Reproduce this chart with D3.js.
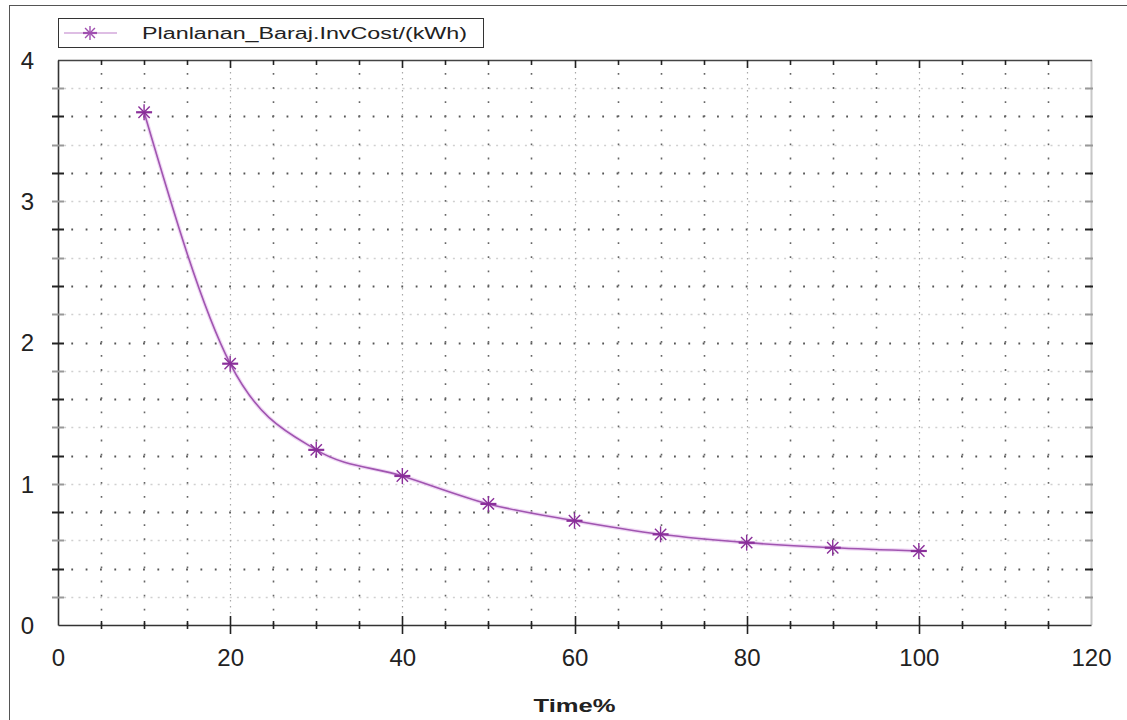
<!DOCTYPE html>
<html>
<head>
<meta charset="utf-8">
<script src="https://cdn.jsdelivr.net/npm/d3@7"></script>
<style>
  html, body { margin: 0; padding: 0; background: #fff; }
  svg { display: block; font-family: "Liberation Sans", Arial, sans-serif; }
</style>
</head>
<body>
<svg id="chart" width="1127" height="720"></svg>
<script>
// Investment cost per kWh against time share
const timePct = [10, 20, 30, 40, 50, 60, 70, 80, 90, 100];
const invCost = [3.63, 1.85, 1.24, 1.055, 0.857, 0.738, 0.642, 0.583, 0.547, 0.524];
const seriesName = "Planlanan_Baraj.InvCost/(kWh)";
const xTickLabels = [0, 20, 40, 60, 80, 100, 120];
const yTickLabels = [0, 1, 2, 3, 4];
const xAxisTitle = "Time%";

const svg = d3.select("#chart");
const plotL = 58, plotT = 60, plotR = 1091, plotB = 625;

const x = d3.scaleLinear().domain([0, 120]).range([plotL, plotR]);
const y = d3.scaleLinear().domain([0, 4]).range([plotB, plotT]);

const lineColor = "#a055b0";
const markColor = "#8a2f9a";

// outer frame (left and top edges)
svg.append("line").attr("x1", 9.5).attr("x2", 9.5).attr("y1", 5).attr("y2", 720)
  .attr("stroke", "#555").attr("stroke-width", 1);
svg.append("line").attr("x1", 9).attr("x2", 1127).attr("y1", 5.5).attr("y2", 5.5)
  .attr("stroke", "#555").attr("stroke-width", 1);

const grid = svg.append("g");

// horizontal grid every 0.2 (darker on multiples of 0.4)
const yMinor = d3.range(1, 20).map(i => i * 0.2);
yMinor.forEach((v, i) => {
  const dark = (i + 1) % 2 === 0;
  grid.append("line")
    .attr("x1", plotL).attr("x2", plotR)
    .attr("y1", Math.round(y(v)) + 0.5).attr("y2", Math.round(y(v)) + 0.5)
    .attr("stroke", dark ? "#555" : "#d0d0d0")
    .attr("stroke-width", dark ? 1.8 : 1.5)
    .attr("stroke-dasharray", dark ? "1.8,12.55" : "2,5.2")
    .attr("stroke-dashoffset", -13.3);
});

// vertical grid every 5 units
d3.range(5, 120, 5).forEach(v => {
  const major = v % 20 === 0;
  grid.append("line")
    .attr("x1", Math.round(x(v)) + 0.5).attr("x2", Math.round(x(v)) + 0.5)
    .attr("y1", plotT).attr("y2", plotB)
    .attr("stroke", major ? "#a8a8a8" : "#666")
    .attr("stroke-width", major ? 1.2 : 1.6)
    .attr("stroke-dasharray", major ? "1.5,4.5" : "1.8,12.3")
    .attr("stroke-dashoffset", major ? 0 : -13);
});

// plot frame
svg.append("line").attr("x1", plotR + 0.5).attr("x2", plotR + 0.5).attr("y1", plotT).attr("y2", plotB)
  .attr("stroke", "#c8c8c8").attr("stroke-width", 2);
svg.append("line").attr("x1", plotL).attr("x2", plotR + 1).attr("y1", plotT + 0.5).attr("y2", plotT + 0.5)
  .attr("stroke", "#444").attr("stroke-width", 1.6);

// bottom axis
const xAxis = d3.axisBottom(x).tickValues(xTickLabels).tickSize(0).tickPadding(0)
  .tickFormat(d3.format("d"));
const gx = svg.append("g").attr("transform", `translate(0,${plotB})`).call(xAxis);
gx.select(".domain").attr("stroke", "#333").attr("stroke-width", 1.6);
gx.selectAll("text").attr("font-size", 24).attr("fill", "#222").attr("dy", "1.72em");

// left axis
const yAxis = d3.axisLeft(y).tickValues(yTickLabels).tickSize(0).tickPadding(24)
  .tickFormat(d3.format("d"));
const gy = svg.append("g").attr("transform", `translate(${plotL},0)`).call(yAxis);
gy.select(".domain").attr("stroke", "#333").attr("stroke-width", 1.6);
gy.selectAll("text").attr("font-size", 24).attr("fill", "#222").attr("dy", "0.35em");

// tick marks on all four sides
const tickG = svg.append("g");
d3.range(5, 120, 5).forEach(v => {
  const major = v % 20 === 0;
  const px = Math.round(x(v)) + 0.5;
  tickG.append("line").attr("x1", px).attr("x2", px)
    .attr("y1", plotB - (major ? 9 : 4)).attr("y2", plotB + (major ? 9 : 4))
    .attr("stroke", "#222").attr("stroke-width", 1.6);
  tickG.append("line").attr("x1", px).attr("x2", px)
    .attr("y1", plotT).attr("y2", plotT + (major ? 8 : 5))
    .attr("stroke", "#222").attr("stroke-width", 1.6);
});
yMinor.forEach((v, i) => {
  const dark = (i + 1) % 2 === 0;
  const py = Math.round(y(v)) + 0.5;
  tickG.append("line").attr("x1", plotL - 6).attr("x2", plotL + 6)
    .attr("y1", py).attr("y2", py)
    .attr("stroke", dark ? "#222" : "#999").attr("stroke-width", 2);
  tickG.append("line").attr("x1", plotR - 6).attr("x2", plotR + 2)
    .attr("y1", py).attr("y2", py)
    .attr("stroke", dark ? "#222" : "#999").attr("stroke-width", 2);
});

// x axis title
svg.append("text").attr("x", (plotL + plotR) / 2).attr("y", 712)
  .attr("text-anchor", "middle").attr("font-size", 19).attr("font-weight", "bold")
  .attr("fill", "#222").attr("textLength", 82).attr("lengthAdjust", "spacingAndGlyphs")
  .text(xAxisTitle);

// series curve
const pts = timePct.map((t, i) => [t, invCost[i]]);
const line = d3.line().x(d => x(d[0])).y(d => y(d[1])).curve(d3.curveMonotoneX);
svg.append("path").datum(pts).attr("d", line)
  .attr("fill", "none").attr("stroke", "#e6c0ee").attr("stroke-width", 4).attr("opacity", 0.6);
svg.append("path").datum(pts).attr("d", line)
  .attr("fill", "none").attr("stroke", lineColor).attr("stroke-width", 1.6);

// asterisk markers
function asterisk(g, cx, cy, r, color) {
  const a = g.append("g").attr("transform", `translate(${cx},${cy})`);
  [0, 45, 90, 135].forEach(ang => {
    const rad = ang * Math.PI / 180;
    a.append("line")
      .attr("x1", -r * Math.cos(rad)).attr("y1", -r * Math.sin(rad))
      .attr("x2", r * Math.cos(rad)).attr("y2", r * Math.sin(rad))
      .attr("stroke", color).attr("stroke-width", ang === 0 ? 2.2 : 1.4);
  });
}
const marks = svg.append("g");
pts.forEach(d => asterisk(marks, x(d[0]), y(d[1]), 8, markColor));

// legend
const lg = svg.append("g");
lg.append("rect").attr("x", 58.5).attr("y", 18.5).attr("width", 425).attr("height", 29)
  .attr("fill", "#fff").attr("stroke", "#333").attr("stroke-width", 1);
lg.append("line").attr("x1", 64).attr("x2", 117).attr("y1", 33).attr("y2", 33)
  .attr("stroke", "#d3a8db").attr("stroke-width", 1.5);
asterisk(lg, 90, 33, 7, "#a050b0");
lg.append("text").attr("x", 142).attr("y", 39).attr("font-size", 16).attr("fill", "#222")
  .attr("textLength", 325).attr("lengthAdjust", "spacingAndGlyphs")
  .text(seriesName);
</script>
</body>
</html>
